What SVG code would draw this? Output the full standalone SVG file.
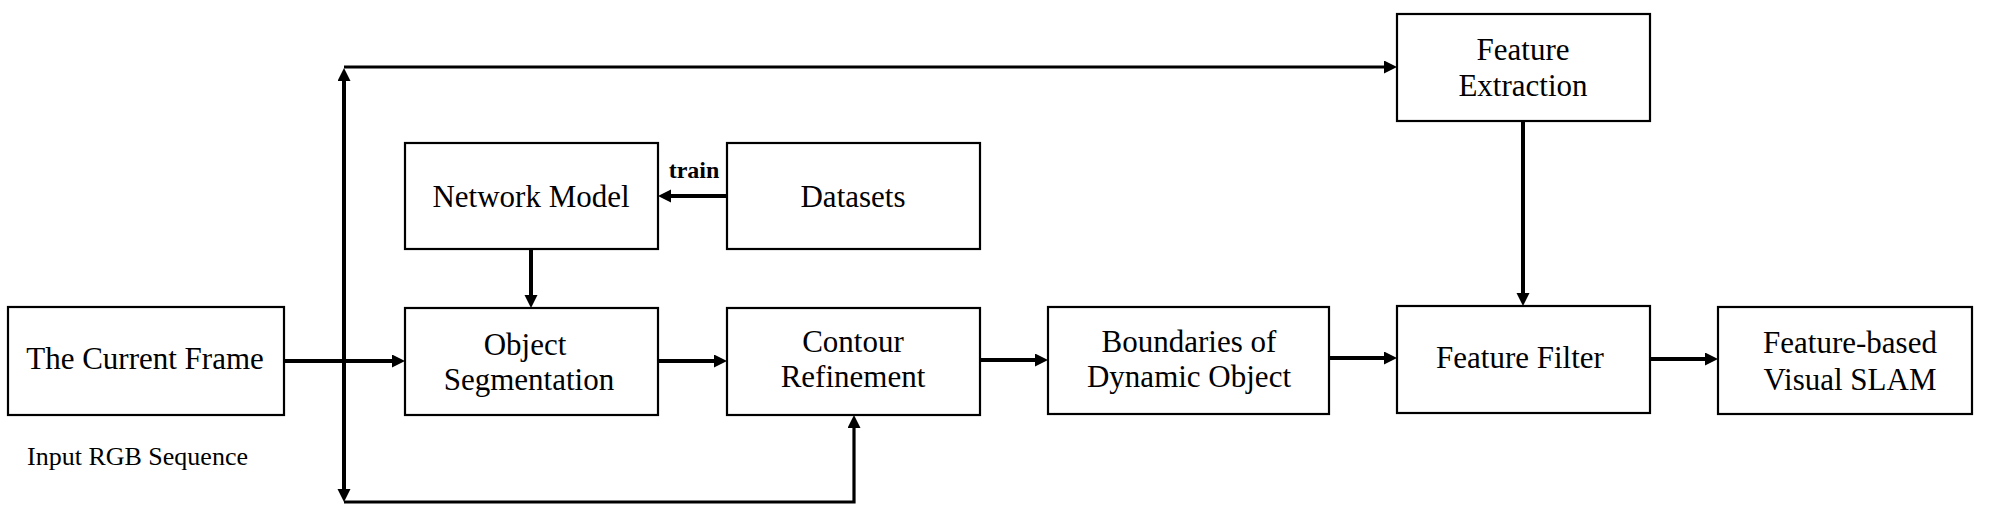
<svg xmlns="http://www.w3.org/2000/svg" width="1991" height="515" viewBox="0 0 1991 515">
<defs>
<style>
.box{fill:#fff;stroke:#000;stroke-width:2.2}
.t{font-family:"Liberation Serif","Times New Roman",serif;font-size:31px;fill:#000;text-anchor:middle}
.c{fill:none;stroke:#000;stroke-width:4}
.c3{fill:none;stroke:#000;stroke-width:3.2}
</style>
<marker id="ah" markerUnits="userSpaceOnUse" markerWidth="14" markerHeight="14" refX="0" refY="6.5" orient="auto-start-reverse" viewBox="0 0 14 14">
<path d="M0,0 L13,6.5 L0,13 z" fill="#000"/>
</marker>
</defs>
<rect width="1991" height="515" fill="#fff"/>
<g id="connectors">
<line class="c" x1="344" y1="81" x2="344" y2="489" marker-start="url(#ah)" marker-end="url(#ah)"/>
<path class="c3" d="M344,67 H1384" marker-end="url(#ah)"/>
<path class="c3" d="M344,502 H854 V428" marker-end="url(#ah)"/>
<line class="c" x1="284" y1="361" x2="392" y2="361" marker-end="url(#ah)"/>
<line class="c" x1="531" y1="249" x2="531" y2="295" marker-end="url(#ah)"/>
<line class="c" x1="727" y1="196" x2="671" y2="196" marker-end="url(#ah)"/>
<line class="c" x1="658" y1="361" x2="714" y2="361" marker-end="url(#ah)"/>
<line class="c" x1="980" y1="360" x2="1035" y2="360" marker-end="url(#ah)"/>
<line class="c" x1="1329" y1="358" x2="1384" y2="358" marker-end="url(#ah)"/>
<line class="c" x1="1523" y1="121" x2="1523" y2="293" marker-end="url(#ah)"/>
<line class="c" x1="1650" y1="359" x2="1705" y2="359" marker-end="url(#ah)"/>
<text x="694" y="178" font-family="'Liberation Serif','Times New Roman',serif" font-size="24" font-weight="bold" text-anchor="middle">train</text>
</g>
<g id="current-frame">
<rect class="box" x="8" y="307" width="276" height="108"/>
<text class="t" x="145" y="369">The Current Frame</text>
</g>
<text id="input-label" x="27" y="465" font-family="'Liberation Serif','Times New Roman',serif" font-size="26">Input RGB Sequence</text>
<g id="network-model">
<rect class="box" x="405" y="143" width="253" height="106"/>
<text class="t" x="531" y="207">Network Model</text>
</g>
<g id="datasets">
<rect class="box" x="727" y="143" width="253" height="106"/>
<text class="t" x="853" y="207">Datasets</text>
</g>
<g id="object-segmentation">
<rect class="box" x="405" y="308" width="253" height="107"/>
<text class="t" x="525" y="355">Object</text>
<text class="t" x="529" y="390">Segmentation</text>
</g>
<g id="contour-refinement">
<rect class="box" x="727" y="308" width="253" height="107"/>
<text class="t" x="853" y="352">Contour</text>
<text class="t" x="853" y="387">Refinement</text>
</g>
<g id="boundaries">
<rect class="box" x="1048" y="307" width="281" height="107"/>
<text class="t" x="1189" y="352">Boundaries of</text>
<text class="t" x="1189" y="387">Dynamic Object</text>
</g>
<g id="feature-extraction">
<rect class="box" x="1397" y="14" width="253" height="107"/>
<text class="t" x="1523" y="60">Feature</text>
<text class="t" x="1523" y="96">Extraction</text>
</g>
<g id="feature-filter">
<rect class="box" x="1397" y="306" width="253" height="107"/>
<text class="t" x="1520" y="368">Feature Filter</text>
</g>
<g id="visual-slam">
<rect class="box" x="1718" y="307" width="254" height="107"/>
<text class="t" x="1850" y="353">Feature-based</text>
<text class="t" x="1850" y="390">Visual SLAM</text>
</g>
</svg>
